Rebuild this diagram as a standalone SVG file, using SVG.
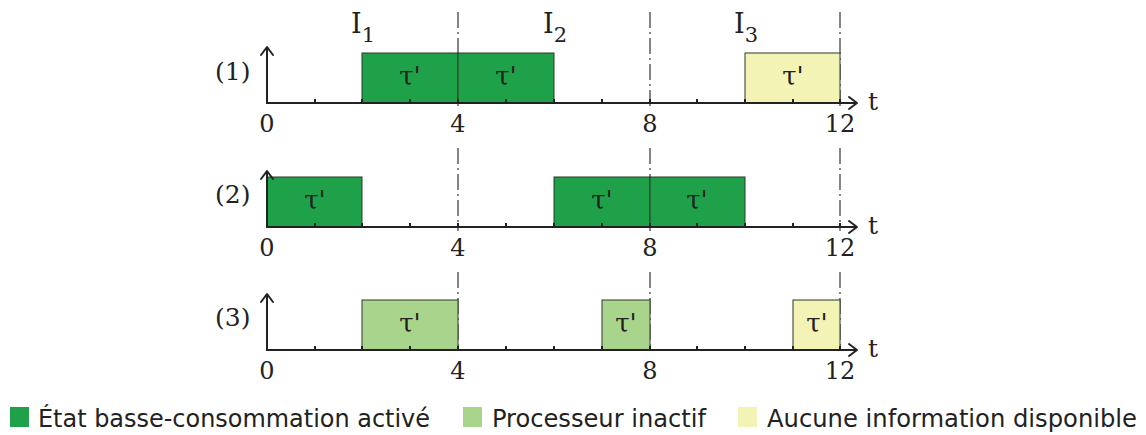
<svg xmlns="http://www.w3.org/2000/svg" width="1146" height="435" viewBox="0 0 1146 435">
<defs>
<style>
.ax{stroke:#222;stroke-width:2;fill:none}
.ah{stroke:#222;stroke-width:2;fill:none;stroke-linecap:round;stroke-linejoin:round}
.tk{stroke:#222;stroke-width:2}
.dd{stroke:#444;stroke-width:1.3;stroke-dasharray:16 4 2 4;fill:none}
.dg{fill:#1fa14a;stroke:#2a3a2a;stroke-width:1}
.lg{fill:#a8d58b;stroke:#2a3a2a;stroke-width:1}
.yl{fill:#f3f3b6;stroke:#2a3a2a;stroke-width:1}
.s{font-family:"DejaVu Serif","Liberation Serif",serif;fill:#222}
.lab{font-size:25px}
.num{font-size:24px;text-anchor:middle}
.tau{font-size:26px;text-anchor:middle}
.leg{font-family:"DejaVu Sans Condensed","DejaVu Sans","Liberation Sans",sans-serif;font-size:24px;fill:#222}
</style>
</defs>
<g id="guides">
<path class="dd" d="M458 12V107M458 148V231M458 272V350"/>
<path class="dd" d="M650 12V107M650 148V231M650 272V350"/>
<path class="dd" d="M840 12V107M840 148V231M840 272V350"/>
</g>
<g id="interval-labels" class="s">
<text x="351" y="33" font-size="27">I<tspan font-size="21" dy="9">1</tspan></text>
<text x="543" y="33" font-size="27">I<tspan font-size="21" dy="9">2</tspan></text>
<text x="734" y="33" font-size="27">I<tspan font-size="21" dy="9">3</tspan></text>
</g>
<g id="row1">
<rect class="dg" x="362" y="53" width="96" height="50"/>
<rect class="dg" x="458" y="53" width="96" height="50"/>
<rect class="yl" x="745" y="53" width="95" height="50"/>
<text class="s tau" x="410" y="85">τ'</text>
<text class="s tau" x="506" y="85">τ'</text>
<text class="s tau" x="793" y="85">τ'</text>
<text class="s lab" x="215" y="80">(1)</text>
</g>
<g id="row2">
<rect class="dg" x="267" y="177" width="95" height="50"/>
<rect class="dg" x="554" y="177" width="96" height="50"/>
<rect class="dg" x="650" y="177" width="95" height="50"/>
<text class="s tau" x="315" y="209">τ'</text>
<text class="s tau" x="602" y="209">τ'</text>
<text class="s tau" x="697" y="209">τ'</text>
<text class="s lab" x="215" y="203">(2)</text>
</g>
<g id="row3">
<rect class="lg" x="362" y="300" width="96" height="50"/>
<rect class="lg" x="602" y="300" width="48" height="50"/>
<rect class="yl" x="793" y="300" width="47" height="50"/>
<text class="s tau" x="410" y="332">τ'</text>
<text class="s tau" x="626" y="332">τ'</text>
<text class="s tau" x="817" y="332">τ'</text>
<text class="s lab" x="215" y="326">(3)</text>
</g>
<g id="axes">
<g id="axis1">
<path class="ax" d="M267 47 V103 H857"/>
<path class="ah" d="M261 55 L267 47 L273 55"/>
<path class="ah" d="M849 97 L857 103 L849 109"/>
<path class="tk" d="M315 103v-4M362 103v-4M410 103v-4M458 103v-4M506 103v-4M554 103v-4M602 103v-4M650 103v-4M697 103v-4M745 103v-4M793 103v-4M840 103v-4"/>
<text class="s num" x="267" y="132">0</text>
<text class="s num" x="458" y="132">4</text>
<text class="s num" x="650" y="132">8</text>
<text class="s num" x="840" y="132">12</text>
<text class="s lab" x="868" y="110" font-size="27">t</text>
</g>
<g id="axis2">
<path class="ax" d="M267 171 V227 H857"/>
<path class="ah" d="M261 179 L267 171 L273 179"/>
<path class="ah" d="M849 221 L857 227 L849 233"/>
<path class="tk" d="M315 227v-4M362 227v-4M410 227v-4M458 227v-4M506 227v-4M554 227v-4M602 227v-4M650 227v-4M697 227v-4M745 227v-4M793 227v-4M840 227v-4"/>
<text class="s num" x="267" y="256">0</text>
<text class="s num" x="458" y="256">4</text>
<text class="s num" x="650" y="256">8</text>
<text class="s num" x="840" y="256">12</text>
<text class="s lab" x="868" y="234" font-size="27">t</text>
</g>
<g id="axis3">
<path class="ax" d="M267 294 V350 H857"/>
<path class="ah" d="M261 302 L267 294 L273 302"/>
<path class="ah" d="M849 344 L857 350 L849 356"/>
<path class="tk" d="M315 350v-4M362 350v-4M410 350v-4M458 350v-4M506 350v-4M554 350v-4M602 350v-4M650 350v-4M697 350v-4M745 350v-4M793 350v-4M840 350v-4"/>
<text class="s num" x="267" y="379">0</text>
<text class="s num" x="458" y="379">4</text>
<text class="s num" x="650" y="379">8</text>
<text class="s num" x="840" y="379">12</text>
<text class="s lab" x="868" y="357" font-size="27">t</text>
</g>
</g>
<g id="legend">
<rect x="10" y="407" width="19" height="20" fill="#1fa14a"/>
<text class="leg" x="38" y="427" textLength="392" lengthAdjust="spacingAndGlyphs">État basse-consommation activé</text>
<rect x="463" y="407" width="19" height="20" fill="#a8d58b"/>
<text class="leg" x="492" y="427" textLength="214" lengthAdjust="spacingAndGlyphs">Processeur inactif</text>
<rect x="738" y="407" width="19" height="20" fill="#f3f3b6"/>
<text class="leg" x="767" y="427" textLength="370" lengthAdjust="spacingAndGlyphs">Aucune information disponible</text>
</g>
</svg>
